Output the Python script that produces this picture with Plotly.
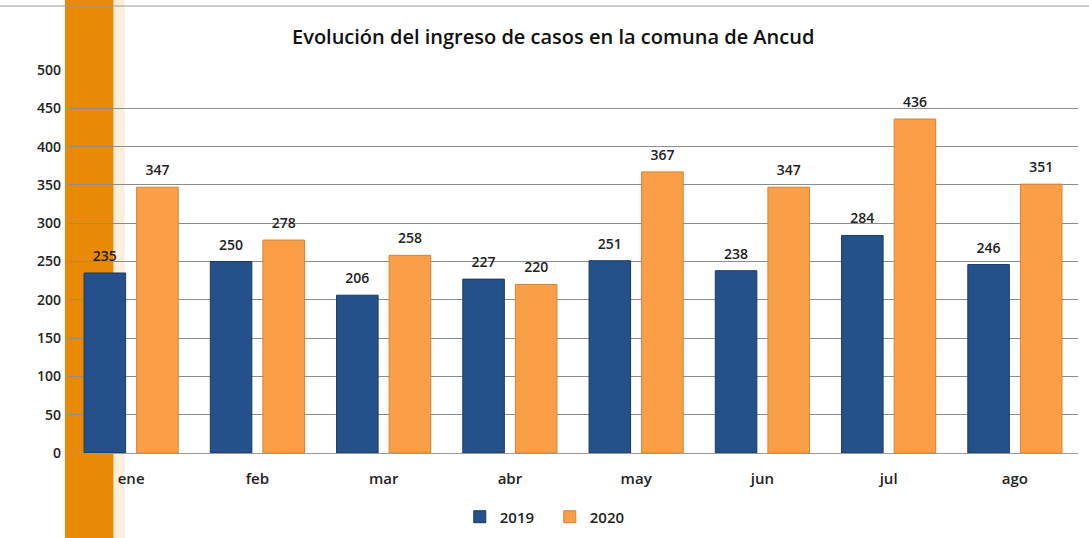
import plotly.graph_objects as go

#monthly case intake, Ancud
meses = ['ene', 'feb', 'mar', 'abr', 'may', 'jun', 'jul', 'ago']
casos_2019 = [235, 250, 206, 227, 251, 238, 284, 246]
casos_2020 = [347, 278, 258, 220, 367, 347, 436, 351]
y_ticks = [0, 50, 100, 150, 200, 250, 300, 350, 400, 450, 500]

font_family = 'Open Sans, Lato, sans-serif'
colores = {'2019': ('#25518A', '#1A3A64'), '2020': ('#FB9E48', '#D8822F')}

fig = go.Figure()

for nombre, valores in [('2019', casos_2019), ('2020', casos_2020)]:
    fig.add_trace(go.Bar(
        x=meses, y=valores,
        name=nombre,
        marker=dict(color=colores[nombre][0], line=dict(color=colores[nombre][1], width=1))
    ))

#value labels, grouped like the bars so they sit above each one
for nombre, valores in [('2019', casos_2019), ('2020', casos_2020)]:
    fig.add_trace(go.Scatter(
        x=meses, y=valores,
        mode='markers+text',
        text=valores,
        textposition='top center',
        textfont=dict(size=14, color='#222222', weight=600),
        marker=dict(size=12, color='rgba(0,0,0,0)'),
        showlegend=False, hoverinfo='skip', cliponaxis=False
    ))

#orange decorative stripe on the left and top rule
fig.add_shape(type='rect', xref='paper', yref='paper',
              x0=-0.003, x1=0.045, y0=-0.25, y1=1.2,
              fillcolor='#E98A06', line=dict(width=0), layer='below')
fig.add_shape(type='rect', xref='paper', yref='paper',
              x0=0.045, x1=0.056, y0=-0.25, y1=1.2,
              fillcolor='rgba(233,138,6,0.15)', line=dict(width=0), layer='below')
fig.add_shape(type='line', xref='paper', yref='paper',
              x0=-0.07, x1=1.02, y0=1.167, y1=1.167,
              line=dict(color='#999999', width=1))

fig.update_layout(
    width=1089, height=538,
    margin=dict(l=68, r=11, t=70, b=85, autoexpand=False),
    paper_bgcolor='white', plot_bgcolor='white',
    font=dict(family=font_family, color='#222222'),
    title=dict(text='Evolución del ingreso de casos en la comuna de Ancud',
               x=0.508, xanchor='center', y=0.931, yanchor='middle',
               font=dict(size=20, color='#111111', weight=600)),
    barmode='group', bargap=0.167, bargroupgap=0.21,
    scattermode='group', scattergap=0.167,
    showlegend=True,
    legend=dict(orientation='h', x=0.477, xanchor='center', y=-0.167, yanchor='middle',
                font=dict(size=15, weight=600), itemwidth=30, entrywidth=45,
                traceorder='normal'),
    xaxis=dict(showgrid=False, showline=True, linecolor='#999999', automargin=False,
               tickfont=dict(size=15, weight=600), ticks='', ticklabelstandoff=12),
    yaxis=dict(range=[0, 500], tickvals=y_ticks, showgrid=True, gridcolor='#8c8c8c',
               gridwidth=1, zeroline=False, tickfont=dict(size=14, weight=600),
               ticklabelstandoff=6, showline=False, automargin=False)
)

fig.write_html('out.html', config={'displayModeBar': False},
               post_script="document.body.style.margin='0';")
